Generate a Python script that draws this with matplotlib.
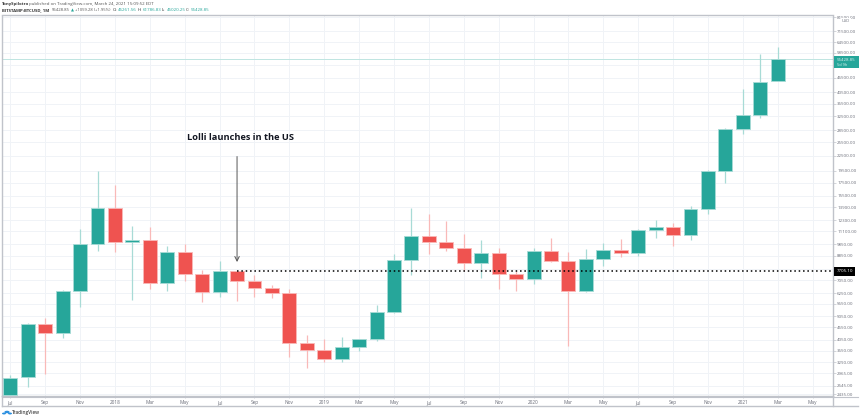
import matplotlib
matplotlib.use('Agg')
import matplotlib.pyplot as plt
from matplotlib.lines import Line2D
from matplotlib.patches import Circle, Rectangle
import numpy as np

plt.rcParams['font.family'] = ['Open Sans', 'DejaVu Sans']

# monthly candles BITSTAMP:BTCUSD, Jul 2017 - Mar 2021
opens = [2420, 2856, 4704, 4302, 6395, 9878, 13776, 10065, 10255, 6890, 9170, 7450, 6335, 7705, 6980,
         6560, 6260, 3940, 3672, 3396, 3776, 4067, 5230, 8490, 10670, 10035, 9520, 8255, 9085, 7490,
         7130, 9255, 8455, 6395, 8570, 9370, 9085, 11290, 11575, 10715, 13725, 19550, 28750, 32840, 45261]
highs = [2918, 4735, 4962, 6437, 11330, 19490, 17110, 11680, 11605, 9700, 9878, 7755, 8430, 7755, 7380,
         6730, 6500, 4232, 4080, 4155, 4080, 5600, 9000, 13815, 13100, 12240, 10845, 10255, 9490, 7685,
         9490, 10420, 9170, 9400, 10000, 10350, 11350, 12350, 12015, 14070, 19680, 29100, 41715, 57970, 61786]
lows = [2420, 2602, 2945, 4116, 5510, 9285, 9145, 5865, 6500, 6380, 6980, 5740, 6050, 5830, 6030,
        5990, 3460, 3113, 3303, 3303, 3647, 4015, 5190, 7380, 9000, 9255, 7685, 7215, 6480, 6380,
        6805, 8380, 3832, 6300, 8050, 8775, 8860, 10480, 9725, 10285, 13100, 17390, 27515, 32030, 45020]
closes = [2838, 4704, 4302, 6395, 9878, 13776, 10065, 10255, 6890, 9170, 7450, 6335, 7705, 6980, 6560,
          6260, 3940, 3672, 3396, 3776, 4067, 5230, 8490, 10670, 10035, 9520, 8255, 9085, 7490, 7130,
          9255, 8455, 6395, 8570, 9370, 9085, 11290, 11575, 10715, 13725, 19550, 28750, 32840, 44770, 55428]

x_labels = ['Jul', 'Sep', 'Nov', '2018', 'Mar', 'May', 'Jul', 'Sep', 'Nov', '2019', 'Mar', 'May', 'Jul',
            'Sep', 'Nov', '2020', 'Mar', 'May', 'Jul', 'Sep', 'Nov', '2021', 'Mar', 'May']
y_ticks = [81500, 71500, 64500, 58500, 46500, 40500, 36500, 32500, 28500, 25500, 22500, 19500, 17500,
           15500, 13900, 12300, 11100, 9850, 8850, 7050, 6250, 5650, 5050, 4550, 4050, 3650, 3290, 2965,
           2645, 2435]
hidden_grid = [52500, 7850]
last_price = 55428.85
level = 7705.10
level_start = 13  # Aug 2018

W, H = 860, 419
UP = '#26a69a'
DOWN = '#ef5350'
UP_EDGE = '#a8dbd6'
DOWN_EDGE = '#f9b9b8'
GRID = '#f0f3f7'
FRAME = '#c0c3ca'
TXT = '#6a6d78'
FS = 3.2


def px(x, y):
    return x / W, 1 - y / H


fig = plt.figure(figsize=(W / 100, H / 100), dpi=100)
ax = fig.add_axes([1.5 / W, 1 - 396 / H, (833 - 1.5) / W, (396 - 15.5) / H])
ax.set_yscale('log')
ax.set_ylim(2399, 82900)
ax.set_xlim(-0.505, 47.17)

n = len(closes)
xs = np.arange(n)
for i in range(n):
    up = closes[i] >= opens[i]
    ax.vlines(xs[i], lows[i], highs[i], color=UP_EDGE if up else DOWN_EDGE, lw=0.9, zorder=2)
    lo, hi = min(opens[i], closes[i]), max(opens[i], closes[i])
    ax.bar(xs[i], hi - lo, bottom=lo, width=0.8, color=UP if up else DOWN,
           edgecolor=UP_EDGE if up else DOWN_EDGE, lw=0.6, zorder=3)

# grid + axes
ax.yaxis.set_minor_locator(matplotlib.ticker.NullLocator())
ax.yaxis.tick_right()
ax.set_yticks(y_ticks)
ax.set_yticklabels(['%.2f' % v for v in y_ticks], fontsize=FS, color=TXT)
ax.set_xticks(np.arange(0, 2 * len(x_labels), 2))
ax.set_xticklabels(x_labels, fontsize=FS + 0.2, color=TXT)
ax.tick_params(axis='y', length=2, width=0.5, color=FRAME, pad=1.0)
ax.tick_params(axis='x', length=1.5, width=0.5, color=FRAME, pad=1.5)
ax.grid(True, color=GRID, lw=0.7, zorder=0)
ax.set_axisbelow(True)
for v in hidden_grid:
    ax.axhline(v, color=GRID, lw=0.7, zorder=0)
for s in ['top', 'left', 'right', 'bottom']:
    ax.spines[s].set_color(FRAME)
    ax.spines[s].set_linewidth(1.0)

# last price line and labels
ax.axhline(last_price, color='#bfe5e1', lw=0.7, zorder=1)
ax.plot([level_start, 47.17], [level, level], color='black', lw=1.1, ls=(0, (1, 1.85)), zorder=4)
ax.annotate('', xy=(level_start, 8350), xytext=(level_start, 22300),
            arrowprops=dict(arrowstyle='->', color='#555555', lw=0.7, mutation_scale=8,
                            shrinkA=0, shrinkB=0), zorder=4)
ax.text(10.13, 26500, 'Lolli launches in the US', fontsize=6.7, fontweight='bold',
        color='#131722', ha='left', va='center')

fig.add_artist(Rectangle((834 / W, 1 - 68 / H), 24.5 / W, 11.5 / H, transform=fig.transFigure,
                         color=UP, lw=0, zorder=5))
fig.text(*px(837, 60), '55428.85', fontsize=FS, color='#d8f1ee', va='center', zorder=6)
fig.text(*px(837, 65), '5d 9h', fontsize=FS - 0.4, color='#d8f1ee', va='center', zorder=6)
fig.add_artist(Rectangle((834 / W, 1 - 275.5 / H), 21 / W, 9 / H, transform=fig.transFigure,
                         color='black', lw=0, zorder=5))
fig.text(*px(837, 271), '7705.10', fontsize=FS, color='white', va='center', zorder=6)
fig.text(*px(846, 20.5), 'USD', fontsize=FS - 0.2, color=TXT, va='center', ha='center', zorder=6,
         bbox=dict(facecolor='white', edgecolor='none', pad=0.6))

# outer frame bits under the price scale
fig.add_artist(Line2D([1.5 / W, 858 / W], [1 - 396.5 / H] * 2, color=FRAME, lw=0.8))
fig.add_artist(Line2D([1.5 / W, 858 / W], [1 - 406 / H] * 2, color=FRAME, lw=1.0))
fig.add_artist(Line2D([1.5 / W, 1.5 / W], [1 - 396 / H, 1 - 406 / H], color=FRAME, lw=1.0))
fig.add_artist(Line2D([833 / W, 833 / W], [1 - 396 / H, 1 - 406 / H], color=FRAME, lw=1.0))

# header
fig.text(*px(2, 4), 'TonySpilotro', fontsize=FS - 0.1, fontweight='bold', color='#333333', va='center')
fig.text(*px(29, 4), 'published on TradingView.com, March 24, 2021 15:09:52 EDT', fontsize=FS,
         color='#555555', va='center')
fig.text(*px(2, 10), 'BITSTAMP:BTCUSD, 1M', fontsize=FS - 0.1, fontweight='bold', color='#333333', va='center')
fig.text(*px(52, 10), '55428.85', fontsize=FS - 0.1, color='#555555', va='center')
fig.text(*px(71, 10), '\u25b2', fontsize=2.8, color=UP, va='center')
fig.text(*px(75, 10), '+1059.28 (+1.95%)', fontsize=FS - 0.2, color='#555555', va='center')
for lab, x_lab, val, x_val in [('O:', 113, '45261.56', 118), ('H:', 138, '61786.83', 143),
                               ('L:', 162, '45020.25', 167), ('C:', 186, '55428.85', 191)]:
    fig.text(*px(x_lab, 10), lab, fontsize=FS, color='#333333', va='center')
    fig.text(*px(x_val, 10), val, fontsize=FS, color=UP, va='center')

# TradingView logo
for cx, cy, r in [(4, 413.5, 2), (7, 412, 2.6), (10, 413.5, 2)]:
    fig.add_artist(Circle((cx / W, 1 - cy / H), r / W, color='#2a8fe0', lw=0, transform=fig.transFigure))
fig.text(*px(12, 412.5), 'TradingView', fontsize=FS + 0.2, fontweight='semibold', color='#444444', va='center')

fig.savefig('out.png', dpi=100)
